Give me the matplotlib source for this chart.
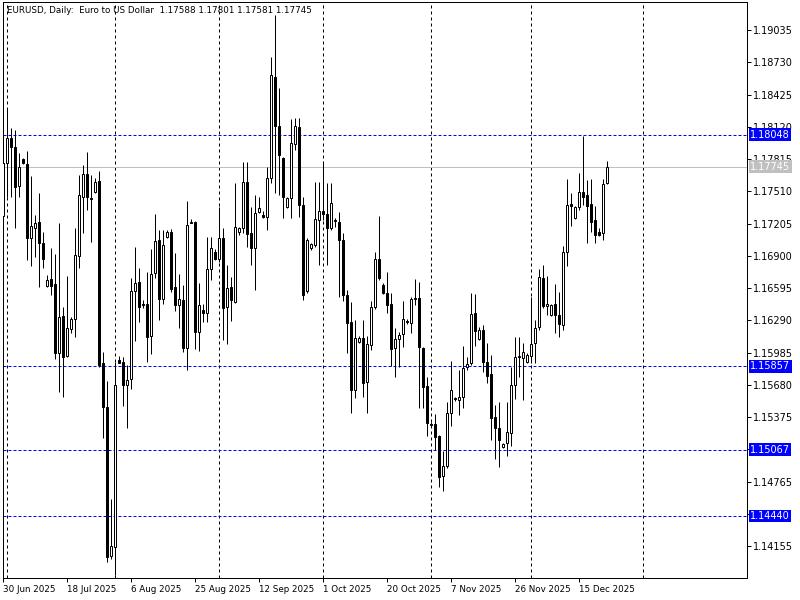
import matplotlib.pyplot as plt
import numpy as np

# EURUSD daily, 30 Jun 2025 .. 23 Dec 2025 (broker feed with Sunday bars)
opens = [1.17277, 1.17778, 1.18014, 1.17930, 1.17560, 1.17816, 1.17768, 1.17068, 1.17163, 1.17220,
         1.17022, 1.16614, 1.16681, 1.16633, 1.15981, 1.16330, 1.15952, 1.16208, 1.16302, 1.16898,
         1.17457, 1.17674, 1.17447, 1.17504, 1.17608, 1.15886, 1.15470, 1.14060, 1.14146, 1.15914,
         1.15895, 1.15678, 1.15735, 1.16568, 1.16652, 1.16444, 1.16444, 1.16141, 1.16738, 1.17050,
         1.16492, 1.17078, 1.17125, 1.16605, 1.16435, 1.16482, 1.16028, 1.17220, 1.17220, 1.16179,
         1.16387, 1.16359, 1.16775, 1.16936, 1.16870, 1.17068, 1.16416, 1.16605, 1.16463, 1.17125,
         1.17163, 1.17598, 1.17116, 1.16974, 1.17315, 1.17287, 1.17268, 1.17636, 1.18592, 1.18128,
         1.17825, 1.17362, 1.17447, 1.17958, 1.18119, 1.17381, 1.16568, 1.16974, 1.17003, 1.17239,
         1.17325, 1.17296, 1.17163, 1.17239, 1.17220, 1.17050, 1.16530, 1.16274, 1.15631, 1.16085,
         1.16122, 1.15706, 1.16057, 1.16416, 1.16870, 1.16624, 1.16549, 1.16444, 1.16028, 1.16113,
         1.16160, 1.16284, 1.16265, 1.16492, 1.16501, 1.16028, 1.15669, 1.15309, 1.15309, 1.15195,
         1.14817, 1.14911, 1.15413, 1.15555, 1.15536, 1.15565, 1.15848, 1.15886, 1.16359, 1.16113,
         1.16198, 1.15895, 1.15782, 1.15375, 1.15271, 1.15092, 1.15130, 1.15224, 1.15678, 1.15943,
         1.15933, 1.15895, 1.15952, 1.16076, 1.16227, 1.16690, 1.16425, 1.16340, 1.16444, 1.16340,
         1.16245, 1.16936, 1.17390, 1.17258, 1.17362, 1.17504, 1.17476, 1.17390, 1.17239, 1.17125,
         1.17116, 1.17588]
highs = [1.17825, 1.18289, 1.18109, 1.18090, 1.17873, 1.17825, 1.17892, 1.17655, 1.17287, 1.17495,
         1.17125, 1.16719, 1.16974, 1.16917, 1.17211, 1.16416, 1.16709, 1.16321, 1.17163, 1.17665,
         1.17759, 1.17882, 1.17665, 1.17636, 1.17703, 1.15990, 1.15716, 1.14600, 1.15895, 1.15952,
         1.15943, 1.15867, 1.16690, 1.16984, 1.16784, 1.16482, 1.16747, 1.16965, 1.17296, 1.17144,
         1.17144, 1.17144, 1.17154, 1.16927, 1.16728, 1.16624, 1.17419, 1.17249, 1.17230, 1.16643,
         1.16444, 1.17078, 1.17078, 1.16965, 1.17362, 1.17163, 1.16813, 1.16700, 1.17589, 1.17173,
         1.17787, 1.17787, 1.17362, 1.17476, 1.17457, 1.17325, 1.17740, 1.18781, 1.19178, 1.18487,
         1.17835, 1.17457, 1.18194, 1.18203, 1.18203, 1.17457, 1.17068, 1.17022, 1.17598, 1.17598,
         1.17778, 1.17589, 1.17589, 1.17258, 1.17315, 1.17116, 1.16577, 1.16463, 1.16293, 1.16141,
         1.16293, 1.16141, 1.16473, 1.16936, 1.17277, 1.16643, 1.16747, 1.16549, 1.16217, 1.16179,
         1.16473, 1.16302, 1.16511, 1.16681, 1.16652, 1.16038, 1.15754, 1.15328, 1.15403, 1.15205,
         1.15054, 1.15517, 1.15905, 1.15565, 1.15820, 1.16047, 1.15943, 1.16549, 1.16539, 1.16227,
         1.16245, 1.16076, 1.15962, 1.15489, 1.15517, 1.15130, 1.15517, 1.15848, 1.16132, 1.16132,
         1.16076, 1.15981, 1.16511, 1.16293, 1.16775, 1.16813, 1.16709, 1.16444, 1.16633, 1.16558,
         1.16993, 1.17626, 1.17495, 1.17372, 1.17684, 1.18033, 1.17617, 1.17626, 1.17372, 1.17163,
         1.17626, 1.17801]
lows = [1.17220, 1.17457, 1.17457, 1.17163, 1.17457, 1.17768, 1.16860, 1.16803, 1.16889, 1.16605,
        1.16784, 1.16605, 1.16530, 1.15924, 1.15612, 1.15565, 1.15943, 1.16170, 1.16132, 1.16784,
        1.17116, 1.17334, 1.17031, 1.17495, 1.15848, 1.15176, 1.14003, 1.14032, 1.13881, 1.15886,
        1.15479, 1.15271, 1.15640, 1.16095, 1.16274, 1.16406, 1.15895, 1.15971, 1.16690, 1.16293,
        1.16444, 1.17068, 1.16558, 1.16378, 1.16217, 1.15990, 1.15820, 1.17211, 1.16019, 1.16000,
        1.16274, 1.16274, 1.16671, 1.16860, 1.16841, 1.16104, 1.16066, 1.16284, 1.16454, 1.17097,
        1.17116, 1.16984, 1.16813, 1.16577, 1.17306, 1.17258, 1.17144, 1.17589, 1.17495, 1.17476,
        1.17258, 1.17352, 1.17258, 1.17901, 1.17268, 1.16482, 1.16549, 1.16955, 1.16984, 1.16813,
        1.17239, 1.16813, 1.17144, 1.17173, 1.16511, 1.16473, 1.15981, 1.15413, 1.15555, 1.16076,
        1.15565, 1.15413, 1.16009, 1.16397, 1.16671, 1.16539, 1.16359, 1.15857, 1.15754, 1.15848,
        1.16038, 1.16255, 1.16170, 1.16435, 1.15460, 1.15460, 1.15195, 1.15290, 1.15063, 1.14713,
        1.14676, 1.14892, 1.15290, 1.15527, 1.15394, 1.15460, 1.15820, 1.15867, 1.16047, 1.16104,
        1.15801, 1.15697, 1.15158, 1.14978, 1.14902, 1.15082, 1.15006, 1.15101, 1.15546, 1.15754,
        1.15536, 1.15886, 1.15886, 1.15886, 1.16198, 1.16406, 1.16340, 1.16330, 1.16170, 1.16132,
        1.16198, 1.16803, 1.17182, 1.17249, 1.17334, 1.17381, 1.17022, 1.17125, 1.17022, 1.17088,
        1.17050, 1.17581]
closes = [1.17778, 1.18014, 1.17930, 1.17551, 1.17740, 1.17778, 1.17068, 1.17182, 1.17211, 1.17022,
          1.16870, 1.16671, 1.16614, 1.15981, 1.16321, 1.15943, 1.16217, 1.16302, 1.16908, 1.17476,
          1.17674, 1.17457, 1.17438, 1.17598, 1.15867, 1.15470, 1.14051, 1.14155, 1.15678, 1.15886,
          1.15678, 1.15725, 1.16568, 1.16643, 1.16416, 1.16435, 1.16132, 1.16728, 1.17041, 1.16492,
          1.17003, 1.17125, 1.16586, 1.16435, 1.16492, 1.16028, 1.17192, 1.17211, 1.16179, 1.16435,
          1.16359, 1.16775, 1.16974, 1.16870, 1.17068, 1.16406, 1.16595, 1.16482, 1.17173, 1.17163,
          1.17598, 1.17106, 1.16974, 1.17306, 1.17352, 1.17268, 1.17636, 1.18611, 1.18128, 1.17854,
          1.17457, 1.17447, 1.17968, 1.18128, 1.17381, 1.16530, 1.17050, 1.17012, 1.17249, 1.17325,
          1.17296, 1.17163, 1.17400, 1.17230, 1.17050, 1.16530, 1.16265, 1.15631, 1.16122, 1.16122,
          1.15697, 1.16066, 1.16416, 1.16870, 1.16690, 1.16549, 1.16435, 1.16019, 1.16113, 1.16151,
          1.16302, 1.16274, 1.16492, 1.16501, 1.16038, 1.15659, 1.15319, 1.15305, 1.15186, 1.14808,
          1.14911, 1.15413, 1.15631, 1.15550, 1.15565, 1.15839, 1.15876, 1.16349, 1.16189, 1.16198,
          1.15895, 1.15763, 1.15365, 1.15271, 1.15158, 1.15120, 1.15233, 1.15678, 1.15943, 1.15952,
          1.15990, 1.15962, 1.16066, 1.16217, 1.16700, 1.16425, 1.16444, 1.16435, 1.16340, 1.16255,
          1.16936, 1.17381, 1.17372, 1.17362, 1.17504, 1.17457, 1.17372, 1.17220, 1.17097, 1.17097,
          1.17579, 1.17745]

tick_pos = [0, 16, 32, 48, 64, 80, 96, 112, 128, 144]
tick_labels = ["30 Jun 2025", "18 Jul 2025", "6 Aug 2025", "25 Aug 2025", "12 Sep 2025",
               "1 Oct 2025", "20 Oct 2025", "7 Nov 2025", "26 Nov 2025", "15 Dec 2025"]
month_starts = [1, 28, 54, 80, 107, 132, 160]

price_ticks = [1.14155 + 0.00305 * k for k in range(17)]
blue_levels = [1.18048, 1.15857, 1.15067, 1.14440]
last_price = 1.17745

o = np.array(opens); h = np.array(highs); l = np.array(lows); c = np.array(closes)
x = np.arange(len(o))
up = c >= o

fig = plt.figure(figsize=(8, 6), dpi=100)
ax = fig.add_axes([2.5 / 800, 22 / 600, 744.5 / 800, 576 / 600])
lw = 0.72

ax.set_xlim(-0.05, 186.08)
ax.set_ylim(1.13854, 1.19301)

for m in month_starts:
    ax.axvline(m, color="black", lw=lw, dashes=(3, 3), zorder=1)
for lev in blue_levels:
    ax.axhline(lev, color="#0000ff", lw=lw, dashes=(3, 2), zorder=1)
ax.axhline(last_price, color="#c0c0c0", lw=lw, zorder=1)

ax.vlines(x, l, h, color="black", lw=lw, zorder=2)
ax.bar(x[up], (c - o)[up], bottom=o[up], width=0.5, facecolor="white",
       edgecolor="black", linewidth=lw, zorder=3)
ax.bar(x[~up], (o - c)[~up], bottom=c[~up], width=0.5, facecolor="black",
       edgecolor="black", linewidth=lw, zorder=3)

for s in ax.spines.values():
    s.set_linewidth(lw)

# labels that sit fully under a price box are not drawn by the terminal
ylabels = []
for p in price_ticks:
    near = min(abs(b - p) for b in blue_levels[1:])
    ylabels.append("" if near < 0.0003 else f"{p:.5f}")

ax.yaxis.tick_right()
ax.set_yticks(price_ticks)
ax.set_yticklabels(ylabels)
ax.tick_params(axis="y", direction="out", length=3, width=lw, pad=1, labelsize=7)
ax.set_xticks(tick_pos)
ax.set_xticklabels(tick_labels, ha="left")
ax.tick_params(axis="x", direction="out", length=3, width=lw, pad=2, labelsize=6.3)

for lev in blue_levels:
    ax.annotate(f"{lev:.5f}", xy=(1.004, lev), xycoords=("axes fraction", "data"),
                va="center", ha="left", fontsize=7, color="white", annotation_clip=False,
                bbox=dict(boxstyle="square,pad=0.15", fc="#0000ff", ec="none"), zorder=5)
ax.annotate(f"{last_price:.5f}", xy=(1.004, last_price), xycoords=("axes fraction", "data"),
            va="center", ha="left", fontsize=7, color="white", annotation_clip=False,
            bbox=dict(boxstyle="square,pad=0.15", fc="#c0c0c0", ec="none"), zorder=5)

ax.text(0.006, 0.993, "EURUSD, Daily:  Euro to US Dollar  1.17588 1.17801 1.17581 1.17745",
        transform=ax.transAxes, ha="left", va="top", fontsize=6.3)

fig.savefig("out.png", dpi=100)
